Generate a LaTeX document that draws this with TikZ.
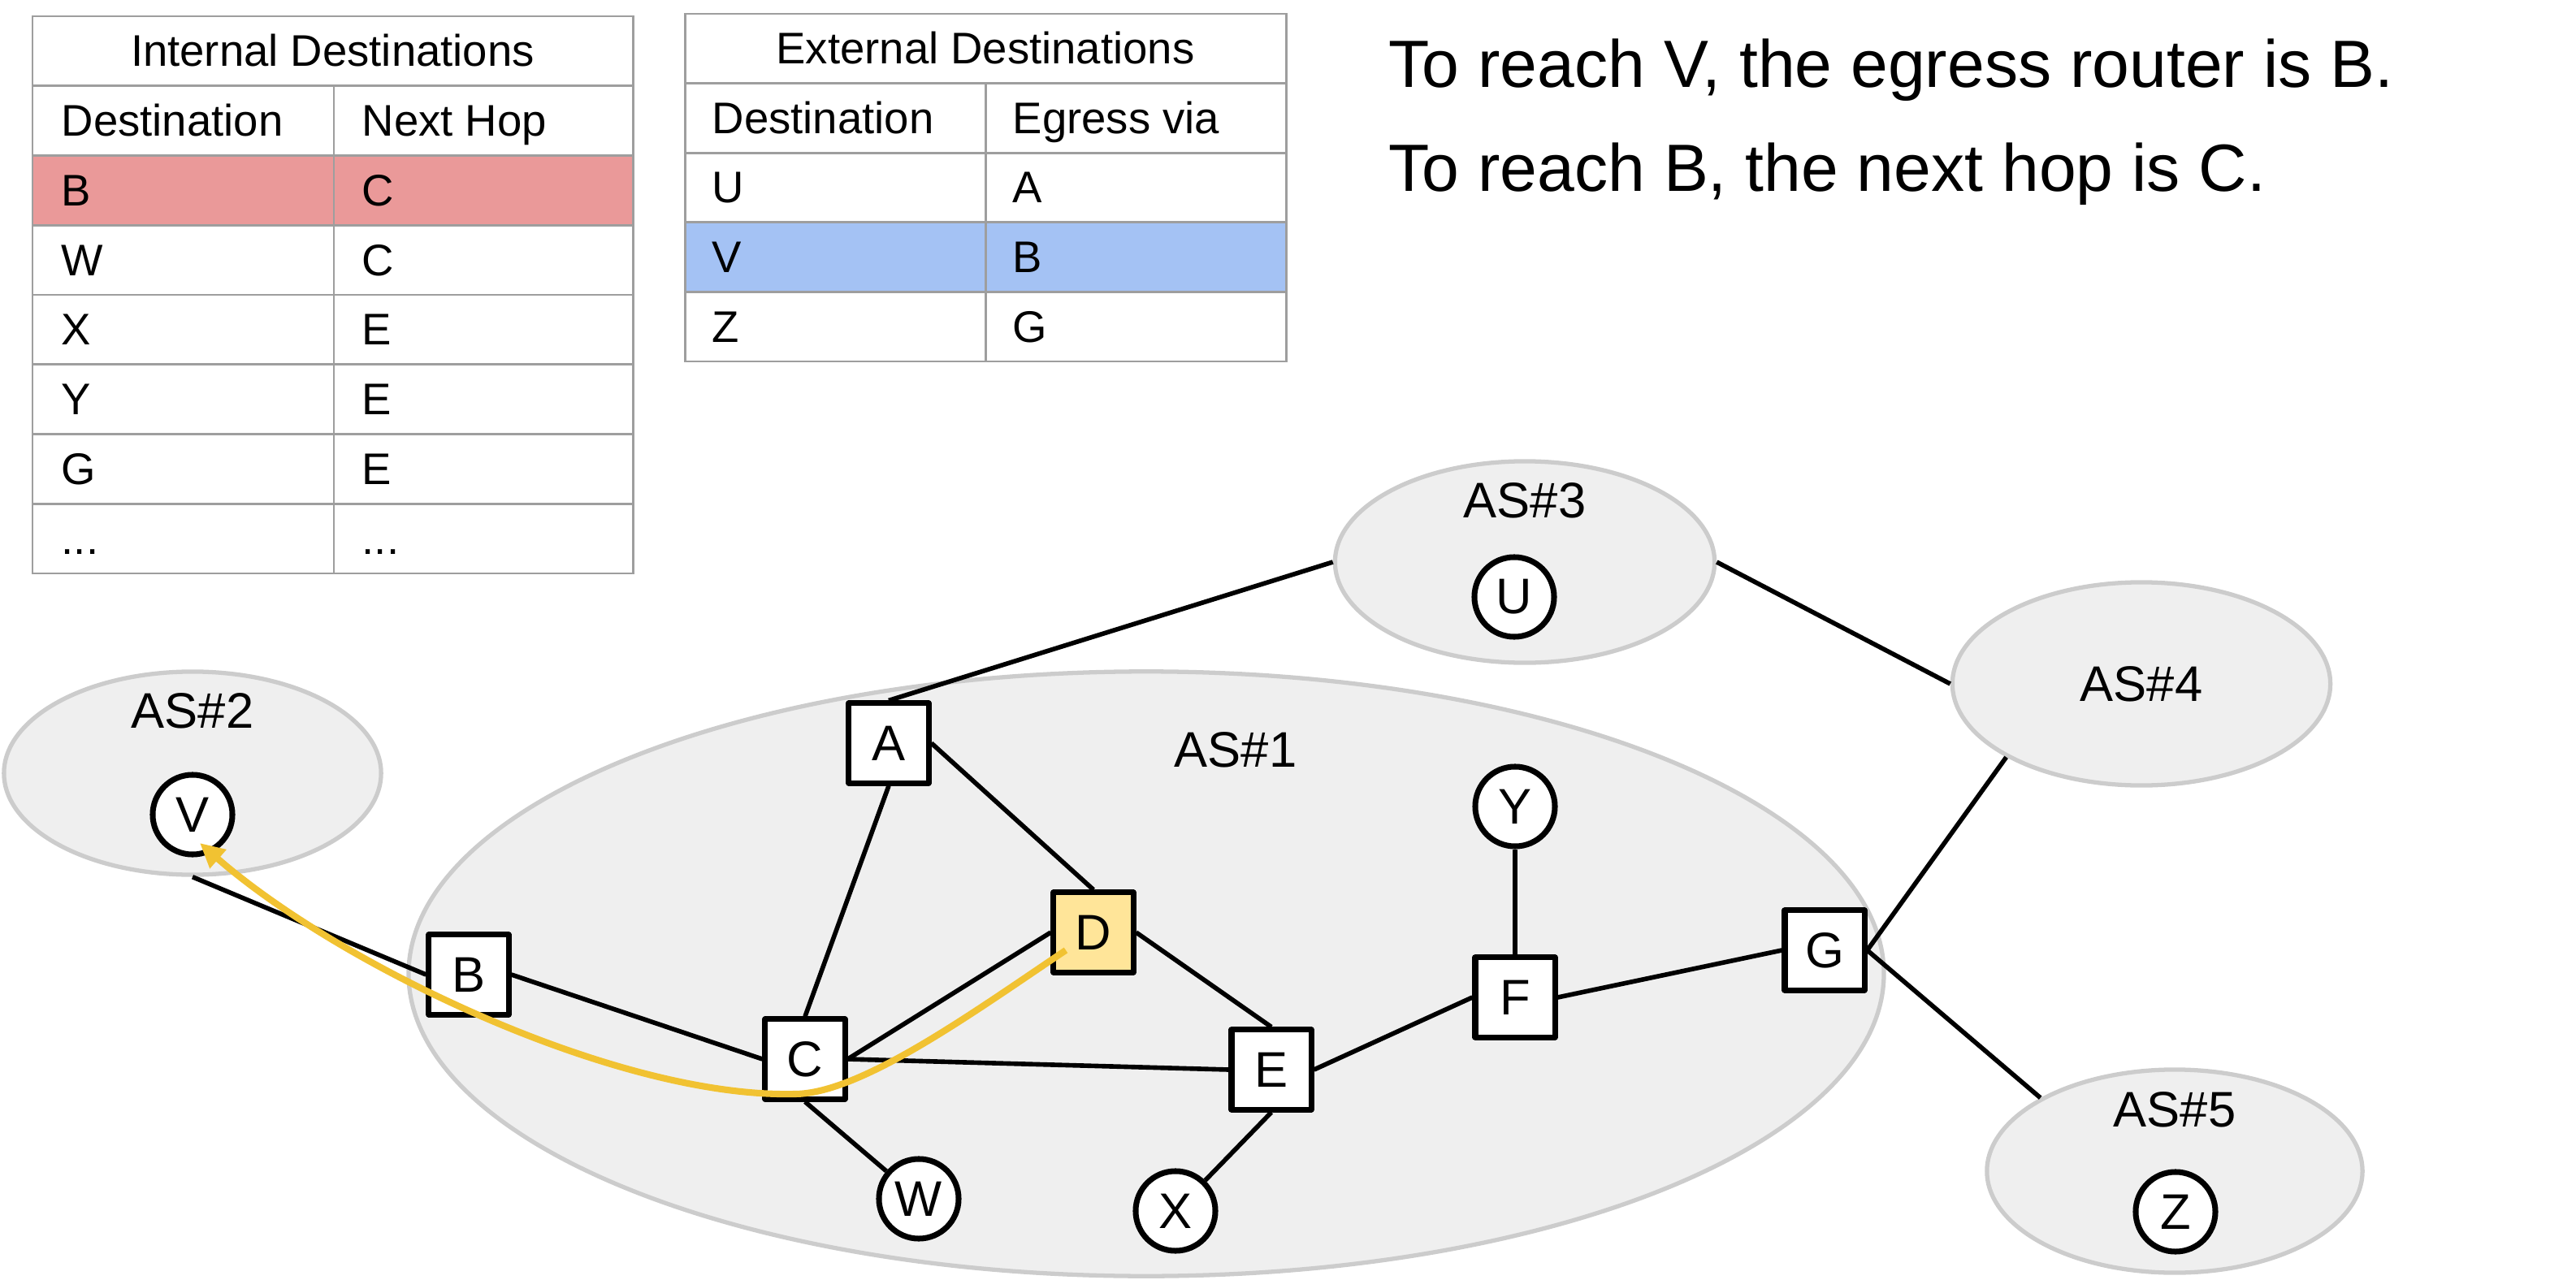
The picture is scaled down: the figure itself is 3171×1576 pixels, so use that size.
\documentclass[tikz,border=0pt]{standalone}
\usepackage{fontspec}
\setmainfont{Liberation Sans}
\usetikzlibrary{shapes.geometric,arrows.meta}
\definecolor{pinkrow}{HTML}{EA9999}
\definecolor{bluerow}{HTML}{A4C2F4}
\definecolor{dfill}{HTML}{FFE599}
\definecolor{arrowyellow}{HTML}{F1C232}
\definecolor{ellfill}{HTML}{EFEFEF}
\definecolor{ellline}{HTML}{CCCCCC}
\definecolor{tgray}{HTML}{9E9E9E}
\pgfdeclarelayer{back}
\pgfdeclarelayer{mid}
\pgfsetlayers{back,mid,main}
\begin{document}
\begin{tikzpicture}[x=0.01cm,y=-0.01cm,
  tline/.style={draw=tgray,line width=0.85pt},
  tcell/.style={anchor=base west,inner sep=0,font=\fontsize{15.5}{18}\selectfont},
  thead/.style={anchor=base,inner sep=0,font=\fontsize{15.5}{18}\selectfont},
  router/.style={rectangle,draw=black,line width=2pt,line join=round,fill=white,minimum size=0.98cm,inner sep=0,font=\fontsize{17.5}{20}\selectfont},
  host/.style={circle,draw=black,line width=2pt,fill=white,minimum size=0.98cm,inner sep=0,font=\fontsize{17.5}{20}\selectfont},
  asell/.style={ellipse,draw=ellline,fill=ellfill,line width=1.5pt,inner sep=0},
  aslabel/.style={inner sep=0,font=\fontsize{17.5}{20}\selectfont},
  link/.style={draw=black,line width=1.6pt},
  route/.style={draw=arrowyellow,line width=2.3pt,-{Triangle[length=0.3cm,width=0.29cm]}},
  note/.style={anchor=base west,inner sep=0,font=\fontsize{23.4}{28}\selectfont}]
\useasboundingbox (0,0) rectangle (3171,1576);

% ---------- Internal table ----------
\fill[pinkrow] (40,191.5) rectangle (779,277.25);
\foreach \yy in {105.75,191.5,277.25,363,448.75,534.5,620.25}
  \draw[tline] (40,\yy) -- (779,\yy);
\draw[tline] (411,105.75) -- (411,706);
\draw[tline] (40,20) rectangle (779,706);
\node[thead] (itit) at (409.5,82) {Internal Destinations};
\node[tcell] (ih1) at (75,167.6) {Destination};
\node[tcell] (ih2) at (445,167.6) {Next Hop};
\node[tcell] (ir1a) at (75,253.4) {B};
\node[tcell] (ir1b) at (445,253.4) {C};
\node[tcell] (ir2a) at (75,339.1) {W};
\node[tcell] (ir2b) at (445,339.1) {C};
\node[tcell] (ir3a) at (75,424.9) {X};
\node[tcell] (ir3b) at (445,424.9) {E};
\node[tcell] (ir4a) at (75,510.6) {Y};
\node[tcell] (ir4b) at (445,510.6) {E};
\node[tcell] (ir5a) at (75,596.4) {G};
\node[tcell] (ir5b) at (445,596.4) {E};
\node[tcell] (ir6a) at (75,682.1) {...};
\node[tcell] (ir6b) at (445,682.1) {...};

% ---------- External table ----------
\fill[bluerow] (843,273.8) rectangle (1583,359.4);
\foreach \yy in {102.6,188.2,273.8,359.4}
  \draw[tline] (843,\yy) -- (1583,\yy);
\draw[tline] (1213,102.6) -- (1213,445);
\draw[tline] (843,17) rectangle (1583,445);
\node[thead] (etit) at (1213,78.8) {External Destinations};
\node[tcell] (eh1) at (876,164.4) {Destination};
\node[tcell] (eh2) at (1246,164.4) {Egress via};
\node[tcell] (er1a) at (876,250) {U};
\node[tcell] (er1b) at (1246,250) {A};
\node[tcell] (er2a) at (876,335.6) {V};
\node[tcell] (er2b) at (1246,335.6) {B};
\node[tcell] (er3a) at (876,421.2) {Z};
\node[tcell] (er3b) at (1246,421.2) {G};

% ---------- Notes ----------
\node[note] (n1) at (1709,108) {To reach V, the egress router is B.};
\node[note] (n2) at (1709,236) {To reach B, the next hop is C.};

% ---------- AS ellipses ----------
\begin{pgfonlayer}{back}
\node[asell,minimum width=18.15cm,minimum height=7.44cm] (AS1) at (1411,1199) {};
\node[asell,minimum width=4.64cm,minimum height=2.5cm] (AS2) at (237,952) {};
\node[asell,minimum width=4.67cm,minimum height=2.48cm] (AS3) at (1877,692) {};
\node[asell,minimum width=4.65cm,minimum height=2.5cm] (AS4) at (2636,842) {};
\node[asell,minimum width=4.62cm,minimum height=2.5cm] (AS5) at (2677,1442) {};
\end{pgfonlayer}
\node[aslabel] (l1) at (1521,923) {AS\#1};
\node[aslabel] (l2) at (237,875) {AS\#2};
\node[aslabel] (l3) at (1877,616) {AS\#3};
\node[aslabel] (l4) at (2636,842) {AS\#4};
\node[aslabel] (l5) at (2677,1366) {AS\#5};

% ---------- Hosts ----------
\node[host] (V) at (237,1003) {V};
\node[host] (U) at (1864,735) {U};
\node[host] (Y) at (1865,993) {Y};
\node[host] (W) at (1131,1476) {W};
\node[host] (X) at (1447,1491) {X};
\node[host] (Z) at (2678,1492) {Z};

% ---------- Routers ----------
\node[router] (A) at (1094,915) {A};
\node[router] (B) at (577,1200) {B};
\node[router] (C) at (991,1304) {C};
\node[router,fill=dfill] (D) at (1346,1148) {D};
\node[router] (E) at (1565,1317) {E};
\node[router] (F) at (1865,1228) {F};
\node[router] (G) at (2246,1170) {G};

% ---------- Links ----------
\begin{pgfonlayer}{mid}
\draw[link] (A.north) -- (AS3.west);
\draw[link] (AS3.east) -- (AS4.west);
\draw[link] (G.east) -- (AS4.south west);
\draw[link] (G.east) -- (AS5.north west);
\draw[link] (AS2.south) -- (B.west);
\draw[link] (B.east) -- (C.west);
\draw[link] (A.south) -- (C.north);
\draw[link] (A.east) -- (D.north);
\draw[link] (C.east) -- (D.west);
\draw[link] (C.east) -- (E.west);
\draw[link] (D.east) -- (E.north);
\draw[link] (E.east) -- (F.west);
\draw[link] (F.east) -- (G.west);
\draw[link] (Y) -- (F);
\draw[link] (E.south) -- (X);
\draw[link] (C.south) -- (W);
\end{pgfonlayer}

% ---------- Forwarding path ----------
\coordinate (pstart) at (1312,1170);
\coordinate (pmid) at (978,1347);
\coordinate (pend) at (246,1038);
\draw[route] (pstart) .. controls (1200,1245) and (1060,1347) .. (pmid)
  .. controls (760,1352) and (420,1190) .. (pend);
\end{tikzpicture}
\end{document}
